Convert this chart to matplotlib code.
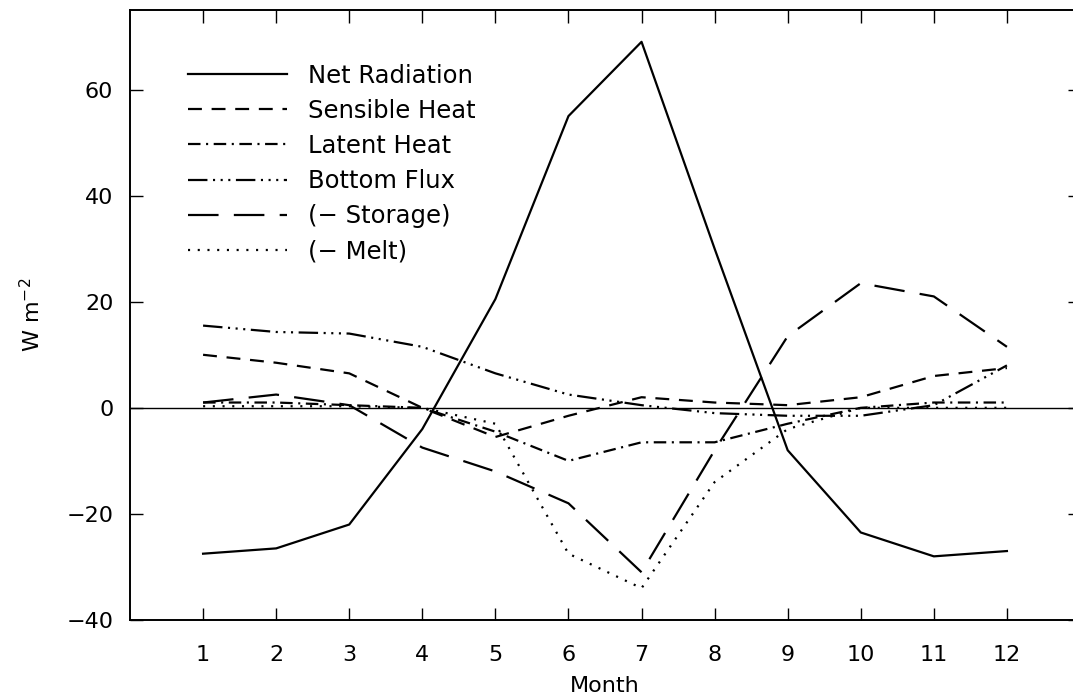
import numpy as np
import matplotlib
matplotlib.use('Agg')
import matplotlib.pyplot as plt

months = np.arange(1, 13)

net_radiation = [-27.5, -26.5, -22, -4, 20.5, 55, 69, 30, -8, -23.5, -28, -27]
sensible_heat = [10, 8.5, 6.5, 0, -5.5, -1.5, 2, 1, 0.5, 2, 6, 7.5]
latent_heat = [1, 1, 0.5, 0, -4.5, -10, -6.5, -6.5, -3, 0, 1, 1]
bottom_flux = [15.5, 14.3, 14, 11.5, 6.5, 2.5, 0.5, -1, -1.5, -1.5, 0.5, 8]
storage = [1, 2.5, 0.5, -7.5, -12, -18, -31, -8, 13.5, 23.5, 21, 11.5]
melt = [0.3, 0.3, 0.3, 0, -3, -27.5, -34, -14, -4, 0, 0, 0]

labels = ['Net Radiation', 'Sensible Heat', 'Latent Heat',
          'Bottom Flux', '(\u2212 Storage)', '(\u2212 Melt)']
styles = ['-',
          (0, (10, 7)),
          (0, (9, 4, 1.5, 4)),
          (0, (14, 4, 1.5, 4, 1.5, 4, 1.5, 4)),
          (0, (22, 11)),
          (0, (1.5, 5.5))]

plt.rcParams['lines.scale_dashes'] = False
plt.rcParams['font.family'] = 'DejaVu Sans'

fig = plt.figure(figsize=(10.73, 7.0), dpi=100)
ax = fig.add_axes([130 / 1073, 80 / 700, 950 / 1073, 610 / 700])

series = [net_radiation, sensible_heat, latent_heat, bottom_flux, storage, melt]
for values, label, ls in zip(series, labels, styles):
    ax.plot(months, values, color='black', linestyle=ls, linewidth=1.6, label=label)

ax.axhline(0, color='black', linewidth=1.0)

ax.set_xlim(0, 13)
ax.set_ylim(-40, 75)
ax.set_xticks(months)
ax.set_yticks([-40, -20, 0, 20, 40, 60])
ax.set_yticklabels(['\u221240', '\u221220', '0', '20', '40', '60'])
ax.tick_params(direction='in', length=9, width=1.0, labelsize=16,
               top=True, right=True)
ax.tick_params(axis='x', pad=18)
ax.tick_params(axis='y', pad=12)
for sp in ax.spines.values():
    sp.set_linewidth(1.4)

ax.set_xlabel('Month', fontsize=16, labelpad=8)
ax.set_ylabel('W m$^{-2}$', fontsize=16, labelpad=16)

# legend sits inside the plot, no frame, like the original figure
ax.legend(loc='upper left', bbox_to_anchor=(0.048, 0.932), frameon=False,
          borderpad=0, fontsize=17.5, handlelength=4.1, handletextpad=0.85,
          labelspacing=0.46)

plt.savefig('out.png', dpi=100)
